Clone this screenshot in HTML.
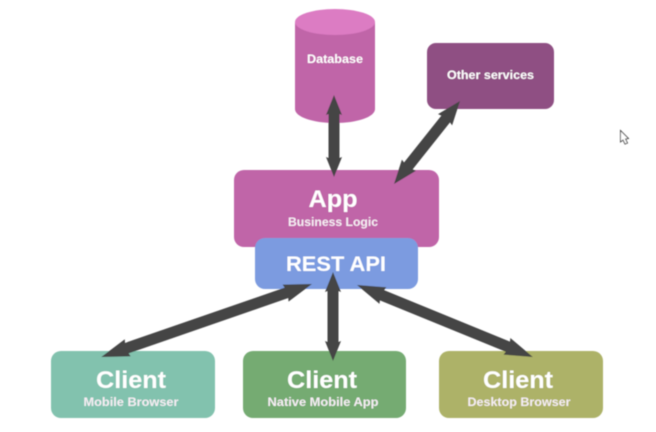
<!DOCTYPE html>
<html>
<head>
<meta charset="utf-8">
<style>
html,body{margin:0;padding:0;background:#fff;width:656px;height:432px;overflow:hidden}
svg{display:block}
text{font-family:"Liberation Sans",sans-serif;font-weight:bold;fill:#fff;text-anchor:middle}
.big{font-size:24px}
.sub{font-size:12px;fill:#f6eef4}
</style>
</head>
<body>
<svg width="656" height="432" viewBox="0 0 656 432" xmlns="http://www.w3.org/2000/svg">
<defs>
<filter id="b" x="-5%" y="-5%" width="110%" height="110%"><feGaussianBlur stdDeviation="0.6"/></filter>
</defs>
<g filter="url(#b)">
  <!-- Database -->
  <path d="M295 22 V109 C295 117 313 123 335 123 C357 123 375 117 375 109 V22 Z" fill="#c065a8"/>
  <ellipse cx="335" cy="22" rx="40" ry="13" fill="#dc7cc3"/>
  <!-- Other services -->
  <rect x="427" y="43" width="127" height="66" rx="9" fill="#8f5083"/>
  <!-- App -->
  <rect x="234" y="170" width="205" height="77" rx="10" fill="#c065a8"/>
  <!-- REST -->
  <rect x="255" y="238" width="163" height="51" rx="10" fill="#7b9be0"/>
  <!-- Clients -->
  <rect x="51" y="351" width="164" height="67" rx="10" fill="#82c2ae"/>
  <rect x="243" y="351" width="163" height="67" rx="10" fill="#74ab72"/>
  <rect x="439" y="351" width="164" height="67" rx="10" fill="#adb268"/>

  <!-- Arrows -->
  <g fill="#454545">
    <polygon transform="translate(334,95) rotate(90)" points="0,0 20,-8 19,-5.5 63,-5.5 62,-8 82,0 62,8 63,5.5 19,5.5 20,8"/>
    <polygon transform="translate(460,101) rotate(128.5)" points="0,0 24,-9 23,-5.5 83,-5.5 82,-9 106,0 82,9 83,5.5 23,5.5 24,9"/>
    <polygon transform="translate(312,284) rotate(160.9)" points="0,0 28,-9 27,-5.5 196,-5.5 195,-9 223,0 195,9 196,5.5 27,5.5 28,9"/>
    <polygon transform="translate(333,272) rotate(90)" points="0,0 20,-8 19,-5.5 70,-5.5 69,-8 89,0 69,8 70,5.5 19,5.5 20,8"/>
    <polygon transform="translate(357,285) rotate(22.25)" points="0,0 28,-9 27,-5.5 163,-5.5 162,-9 190,0 162,9 163,5.5 27,5.5 28,9"/>
  </g>

  <!-- Labels -->
  <text x="335" y="63" style="font-size:11.5px" textLength="56" lengthAdjust="spacingAndGlyphs">Database</text>
  <text x="490.5" y="79" style="font-size:11.5px" textLength="87" lengthAdjust="spacingAndGlyphs">Other services</text>
  <text x="333" y="207" class="big" textLength="49" lengthAdjust="spacingAndGlyphs">App</text>
  <text x="333" y="226" class="sub" textLength="90" lengthAdjust="spacingAndGlyphs">Business Logic</text>
  <text x="336" y="271" style="font-size:21px" textLength="100" lengthAdjust="spacingAndGlyphs">REST API</text>
  <text x="131" y="388" class="big" textLength="70" lengthAdjust="spacingAndGlyphs">Client</text>
  <text x="131" y="406" class="sub" textLength="95" lengthAdjust="spacingAndGlyphs">Mobile Browser</text>
  <text x="322" y="388" class="big" textLength="70" lengthAdjust="spacingAndGlyphs">Client</text>
  <text x="323" y="406" class="sub" textLength="111" lengthAdjust="spacingAndGlyphs">Native Mobile App</text>
  <text x="518" y="388" class="big" textLength="70" lengthAdjust="spacingAndGlyphs">Client</text>
  <text x="519" y="406" class="sub" textLength="103" lengthAdjust="spacingAndGlyphs">Desktop Browser</text>

  <!-- Cursor -->
  <path d="M620.5 130.5 V142 L623 140 L625 144 L627.5 143 L625.5 139 L628.5 138.5 Z" fill="#fff" stroke="#444" stroke-width="0.9"/>
</g>
</svg>
</body>
</html>
